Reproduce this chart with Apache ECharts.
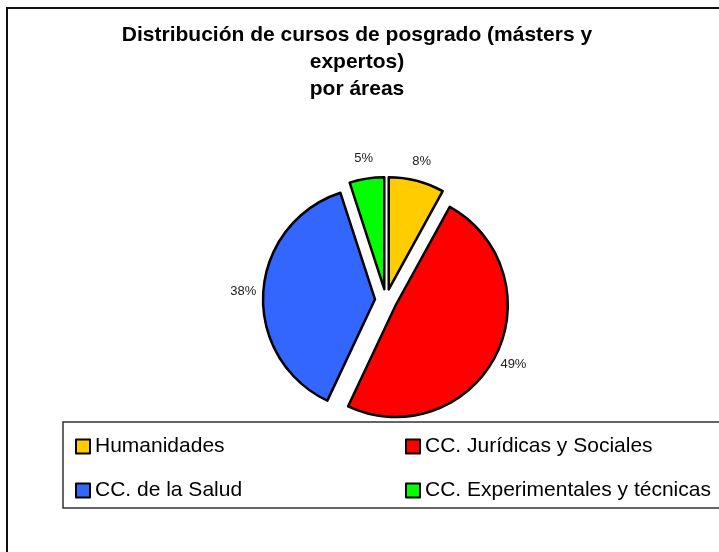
<!DOCTYPE html>
<html>
<head>
<meta charset="utf-8">
<title>Distribución de cursos de posgrado por áreas</title>
<script src="https://cdn.jsdelivr.net/npm/echarts@6/dist/echarts.min.js"></script>
<style>
html, body { margin: 0; padding: 0; background: #fff; }
#piechart { width: 719px; height: 552px; }
</style>
</head>
<body>
<div id="piechart"></div>
<script>
var areas = ['Humanidades', 'CC. Jurídicas y Sociales', 'CC. de la Salud', 'CC. Experimentales y técnicas'];
var porcentajes = [8, 49, 38, 5];
var colores = ['#FFCC00', '#FF0000', '#3366FF', '#00FF00'];

var titulo = 'Distribución de cursos de posgrado (másters y\nexpertos)\npor áreas';
var fuente = '"Liberation Sans", Arial, sans-serif';

var centro = [386, 300];
var radio = 112;
var separacion = 11;

var datos = areas.map(function (n, i) {
    return {
        name: n,
        value: porcentajes[i],
        selected: true,
        itemStyle: { color: colores[i] }
    };
});

// anillo invisible que solo sirve para colocar los porcentajes
var datosEtiquetas = areas.map(function (n, i) {
    return { name: n, value: porcentajes[i] };
});

var chart = echarts.init(document.getElementById('piechart'));

function leyenda(nombre, x, y) {
    return {
        data: [nombre],
        left: x,
        top: y,
        padding: 0,
        icon: 'rect',
        itemWidth: 14,
        itemHeight: 14,
        selectedMode: false,
        itemStyle: { borderColor: '#000', borderWidth: 2 },
        textStyle: { color: '#000', fontSize: 21, fontFamily: fuente }
    };
}

var option = {
    backgroundColor: '#fff',
    animation: false,
    title: {
        text: titulo,
        left: 357,
        top: 22,
        textAlign: 'center',
        padding: 0,
        textStyle: {
            fontSize: 21,
            fontWeight: 'bold',
            fontFamily: fuente,
            color: '#000',
            lineHeight: 27
        }
    },
    legend: [
        leyenda(areas[0], 75, 436),
        leyenda(areas[1], 405, 436),
        leyenda(areas[2], 75, 480),
        leyenda(areas[3], 405, 480)
    ],
    graphic: [
        {
            type: 'rect',
            shape: { x: 7, y: 8, width: 760, height: 600 },
            style: { fill: 'none', stroke: '#111', lineWidth: 2 },
            silent: true
        },
        {
            type: 'rect',
            shape: { x: 63, y: 422, width: 700, height: 86 },
            style: { fill: 'none', stroke: '#333', lineWidth: 1.5 },
            silent: true
        }
    ],
    series: [
        {
            type: 'pie',
            center: centro,
            radius: radio,
            startAngle: 90,
            clockwise: true,
            selectedMode: 'multiple',
            selectedOffset: separacion,
            data: datos,
            itemStyle: { borderColor: '#000', borderWidth: 2.5 },
            emphasis: { disabled: true },
            select: { itemStyle: { borderColor: '#000', borderWidth: 2.5 } },
            label: { show: false },
            labelLine: { show: false }
        },
        {
            type: 'pie',
            center: centro,
            radius: [133, 147],
            startAngle: 90,
            clockwise: true,
            silent: true,
            data: datosEtiquetas,
            itemStyle: { color: 'rgba(0,0,0,0)', borderWidth: 0 },
            emphasis: { disabled: true },
            label: {
                show: true,
                position: 'inside',
                formatter: function (p) { return Math.round(p.percent) + '%'; },
                color: '#222',
                fontSize: 13,
                fontFamily: fuente
            },
            labelLine: { show: false }
        }
    ]
};

chart.setOption(option);
</script>
</body>
</html>
